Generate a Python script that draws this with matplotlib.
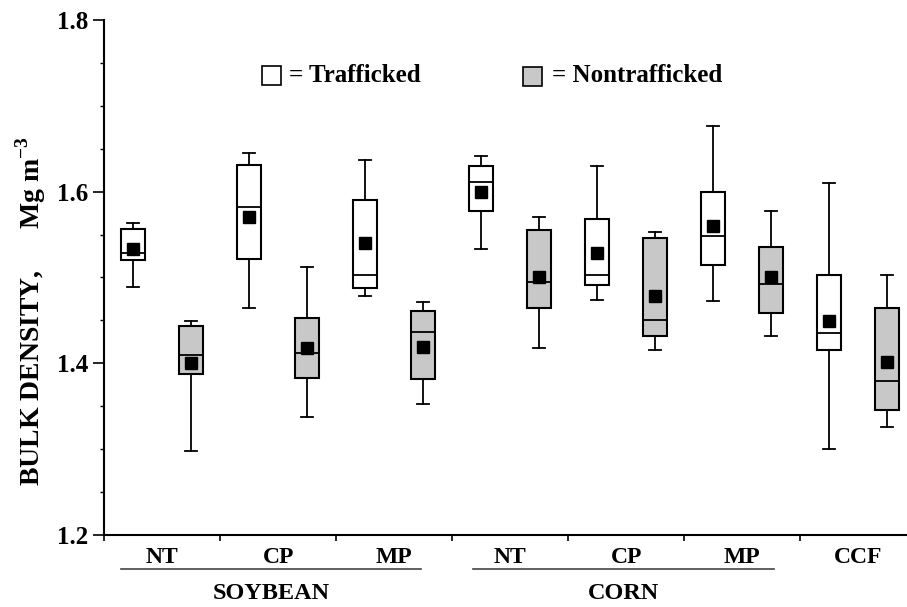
import matplotlib
matplotlib.use("Agg")
import matplotlib.pyplot as plt
import matplotlib.transforms as mtransforms
from matplotlib.patches import Rectangle

plt.rcParams['font.family'] = ['Liberation Serif', 'DejaVu Serif']
plt.rcParams['font.weight'] = 'bold'
plt.rcParams['mathtext.fontset'] = 'custom'
plt.rcParams['mathtext.rm'] = 'Liberation Serif:bold'
plt.rcParams['mathtext.bf'] = 'Liberation Serif:bold'

# categories along x
groups = ["NT", "CP", "MP", "NT", "CP", "MP", "CCF"]
crops = ["SOYBEAN", "CORN"]

# box stats, one value per group
traf_low = [1.489, 1.464, 1.478, 1.533, 1.474, 1.473, 1.300]
traf_q1 = [1.520, 1.522, 1.488, 1.578, 1.491, 1.514, 1.415]
traf_med = [1.528, 1.582, 1.503, 1.611, 1.503, 1.548, 1.435]
traf_q3 = [1.556, 1.631, 1.590, 1.630, 1.568, 1.600, 1.503]
traf_high = [1.564, 1.645, 1.637, 1.642, 1.630, 1.676, 1.610]
traf_mean = [1.533, 1.571, 1.540, 1.600, 1.528, 1.560, 1.449]

non_low = [1.298, 1.338, 1.353, 1.418, 1.415, 1.432, 1.326]
non_q1 = [1.388, 1.383, 1.382, 1.464, 1.432, 1.459, 1.346]
non_med = [1.410, 1.412, 1.436, 1.495, 1.450, 1.493, 1.380]
non_q3 = [1.444, 1.453, 1.461, 1.555, 1.546, 1.536, 1.465]
non_high = [1.449, 1.512, 1.472, 1.571, 1.553, 1.578, 1.503]
non_mean = [1.400, 1.418, 1.419, 1.501, 1.479, 1.500, 1.401]


def stats(lo, q1, med, q3, hi, mean):
    return [dict(whislo=a, q1=b, med=c, q3=d, whishi=e, mean=f, fliers=[])
            for a, b, c, d, e, f in zip(lo, q1, med, q3, hi, mean)]


fig = plt.figure(figsize=(9.07, 6.07), dpi=100)
ax = fig.add_axes([104 / 907, 1 - 535 / 607, 802 / 907, 515 / 607])

grey = '#c8c8c8'
common = dict(widths=0.206, showmeans=True, patch_artist=True,
              whiskerprops=dict(color='black', lw=1.3),
              capprops=dict(color='black', lw=1.3),
              medianprops=dict(color='black', lw=1.3),
              meanprops=dict(marker='s', markerfacecolor='black',
                             markeredgecolor='black', markersize=9))
pos = range(len(groups))
ax.bxp(stats(traf_low, traf_q1, traf_med, traf_q3, traf_high, traf_mean),
       positions=[p + 0.25 for p in pos],
       boxprops=dict(facecolor='white', edgecolor='black', lw=1.5), **common)
ax.bxp(stats(non_low, non_q1, non_med, non_q3, non_high, non_mean),
       positions=[p + 0.75 for p in pos],
       boxprops=dict(facecolor=grey, edgecolor='black', lw=1.5), **common)

ax.set_ylim(1.2, 1.8)
ax.set_xlim(0, 6.91)
ax.set_yticks([1.2, 1.4, 1.6, 1.8])
ax.set_yticklabels(["1.2", "1.4", "1.6", "1.8"], fontsize=18, fontweight='bold')
ax.set_yticks([1.25, 1.3, 1.35, 1.45, 1.5, 1.55, 1.65, 1.7, 1.75], minor=True)
ax.tick_params(axis='y', which='major', length=8, width=1.2, direction='out')
ax.tick_params(axis='y', which='minor', length=3, width=1, direction='out')
ax.set_xticks(range(len(groups)))
ax.set_xticklabels([])
ax.tick_params(axis='x', length=4, width=1.2, direction='out')
ax.spines['top'].set_visible(False)
ax.spines['right'].set_visible(False)
ax.spines['left'].set_linewidth(1.5)
ax.spines['bottom'].set_linewidth(1.5)

ax.set_ylabel("BULK DENSITY,      Mg m$^{-3}$", fontsize=20, fontweight='bold')
ax.yaxis.set_label_coords(-0.070, 0.435)

trans = mtransforms.blended_transform_factory(ax.transData, ax.transAxes)
for i, g in enumerate(groups):
    ax.text(i + 0.5, -0.043, g, transform=trans, ha='center', va='center',
            fontsize=17, fontweight='bold')

crop_spans = [(0.146, 2.73), (3.18, 5.77)]
for name, (a, b) in zip(crops, crop_spans):
    ax.plot([a, b], [-0.066, -0.066], transform=trans, color='#444444',
            lw=1.2, clip_on=False)
    ax.text((a + b) / 2, -0.113, name, transform=trans, ha='center',
            va='center', fontsize=17.5, fontweight='bold')

# legend drawn by hand, in figure pixel fractions
W, H = 907, 607
fig.patches.append(Rectangle((262 / W, 1 - 85 / H), 19 / W, 19 / H,
                             transform=fig.transFigure, facecolor='white',
                             edgecolor='black', lw=1.2))
fig.text(289 / W, 1 - 76 / H, "= Trafficked", fontsize=18,
         fontweight='bold', va='center', ha='left')
fig.patches.append(Rectangle((523 / W, 1 - 86 / H), 19 / W, 19 / H,
                             transform=fig.transFigure, facecolor=grey,
                             edgecolor='black', lw=1.2))
fig.text(552 / W, 1 - 76 / H, "= Nontrafficked", fontsize=18,
         fontweight='bold', va='center', ha='left')

fig.savefig("out.png", dpi=100)
